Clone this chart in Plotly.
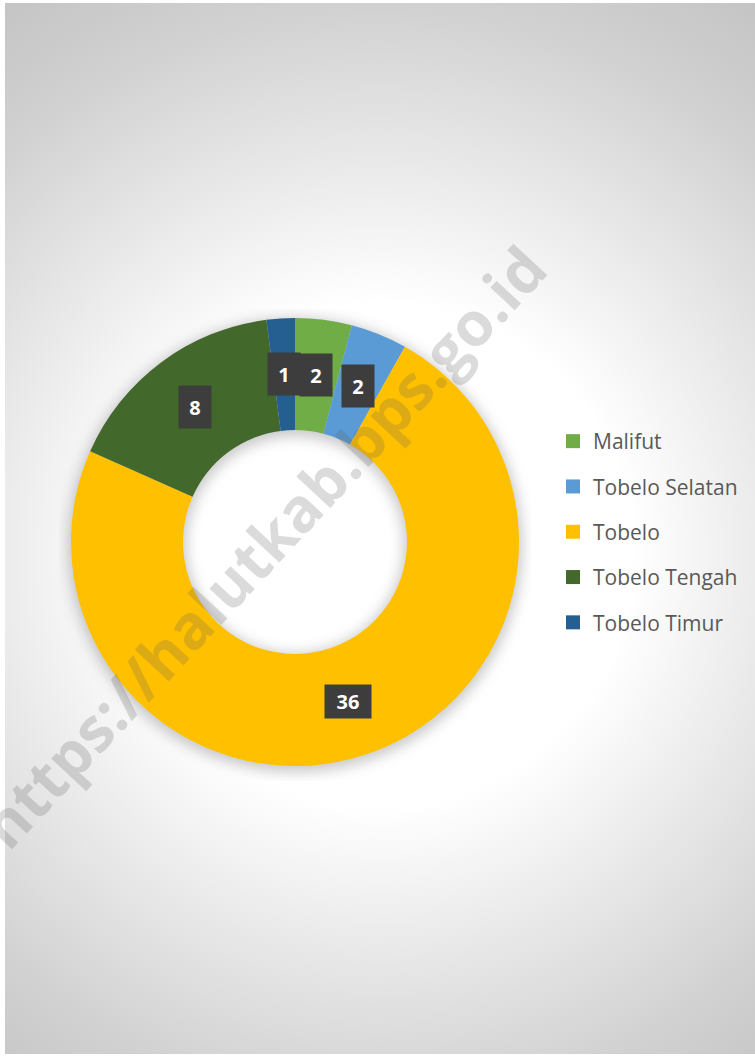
import base64
import math
import plotly.graph_objects as go

# ---- data ----
categories = ["Malifut", "Tobelo Selatan", "Tobelo", "Tobelo Tengah", "Tobelo Timur"]
values = [2, 2, 36, 8, 1]
colors = ["#70AD47", "#5B9BD5", "#FFC000", "#43682B", "#255E91"]
watermark = "https://halutkab.bps.go.id"

W, H = 755, 1057
CX, CY, R = 295, 542, 224
HOLE = 0.5

# ---- background (radial gradient + soft ring shadow) as SVG image ----
svg = f'''<svg xmlns="http://www.w3.org/2000/svg" width="{W}" height="{H}" viewBox="0 0 {W} {H}">
<defs>
<radialGradient id="g" gradientUnits="userSpaceOnUse" cx="380" cy="555" r="680">
<stop offset="0" stop-color="#ffffff"/>
<stop offset="0.37" stop-color="#ffffff"/>
<stop offset="0.55" stop-color="#ececec"/>
<stop offset="0.82" stop-color="#d0d0d0"/>
<stop offset="1" stop-color="#c3c3c3"/>
</radialGradient>
<filter id="b" x="-20%" y="-20%" width="140%" height="140%"><feGaussianBlur stdDeviation="7"/></filter>
</defs>
<rect x="0" y="0" width="{W}" height="{H}" fill="#ffffff"/>
<rect x="5" y="3" width="{W-5}" height="{H-6}" fill="url(#g)"/>
<circle cx="{CX}" cy="{CY+3}" r="{R*(1+HOLE)/2}" fill="none" stroke="#000" stroke-opacity="0.22" stroke-width="{R*(1-HOLE)+6}" filter="url(#b)"/>
</svg>'''
src = "data:image/svg+xml;base64," + base64.b64encode(svg.encode()).decode()

fig = go.Figure()

fig.add_trace(go.Pie(
    labels=categories, values=values, sort=False, direction="clockwise", rotation=0,
    hole=HOLE, marker=dict(colors=colors, line=dict(width=0)),
    textinfo="none", showlegend=False, hoverinfo="label+value",
    domain=dict(x=[(CX - R) / W, (CX + R) / W], y=[1 - (CY + R) / H, 1 - (CY - R) / H]),
))

# legend entries (one group each to control spacing)
for cat, col in zip(categories, colors):
    fig.add_trace(go.Scatter(
        x=[None], y=[None], mode="markers", name=cat, legendgroup=cat,
        marker=dict(symbol="square", size=14, color=col), showlegend=True,
    ))

# data labels at slice centroids
total = sum(values)
cum = 0
annotations = []
rmid = R * (1 + HOLE) / 2
for v in values:
    ang = (cum + v / 2) / total * 2 * math.pi
    cum += v
    px = CX + rmid * math.sin(ang)
    py = CY - rmid * math.cos(ang)
    txt = str(v)
    annotations.append(dict(
        x=px / W, y=1 - py / H, xref="paper", yref="paper", text=f"<b>{txt}</b>",
        showarrow=False, font=dict(family="Open Sans", size=20, color="white"),
        bgcolor="#3d3d3d", width=30 if len(txt) == 1 else 44,
        height=40 if len(txt) == 1 else 31, xanchor="center", yanchor="middle",
    ))

annotations.append(dict(
    x=262 / W, y=1 - 546 / H, xref="paper", yref="paper", text=f"<b>{watermark}</b>",
    showarrow=False, textangle=-47, font=dict(family="Open Sans", size=61, color="rgba(90,90,90,0.22)"),
    xanchor="center", yanchor="middle",
))

fig.update_layout(
    width=W, height=H, autosize=False,
    margin=dict(l=0, r=0, t=0, b=0),
    paper_bgcolor="white", plot_bgcolor="rgba(0,0,0,0)",
    xaxis=dict(visible=False), yaxis=dict(visible=False),
    images=[dict(source=src, xref="paper", yref="paper", x=0, y=1, sizex=1, sizey=1,
                 xanchor="left", yanchor="top", sizing="stretch", layer="below")],
    legend=dict(x=553 / W, y=1 - 421 / H, xanchor="left", yanchor="top",
                font=dict(family="Open Sans", size=21, color="#595959"),
                bgcolor="rgba(0,0,0,0)", tracegroupgap=15, itemwidth=30),
    annotations=annotations,
)

fig.write_html("out.html", config={"displayModeBar": False},
               post_script="document.body.style.margin='0px';document.body.style.overflow='hidden';")
